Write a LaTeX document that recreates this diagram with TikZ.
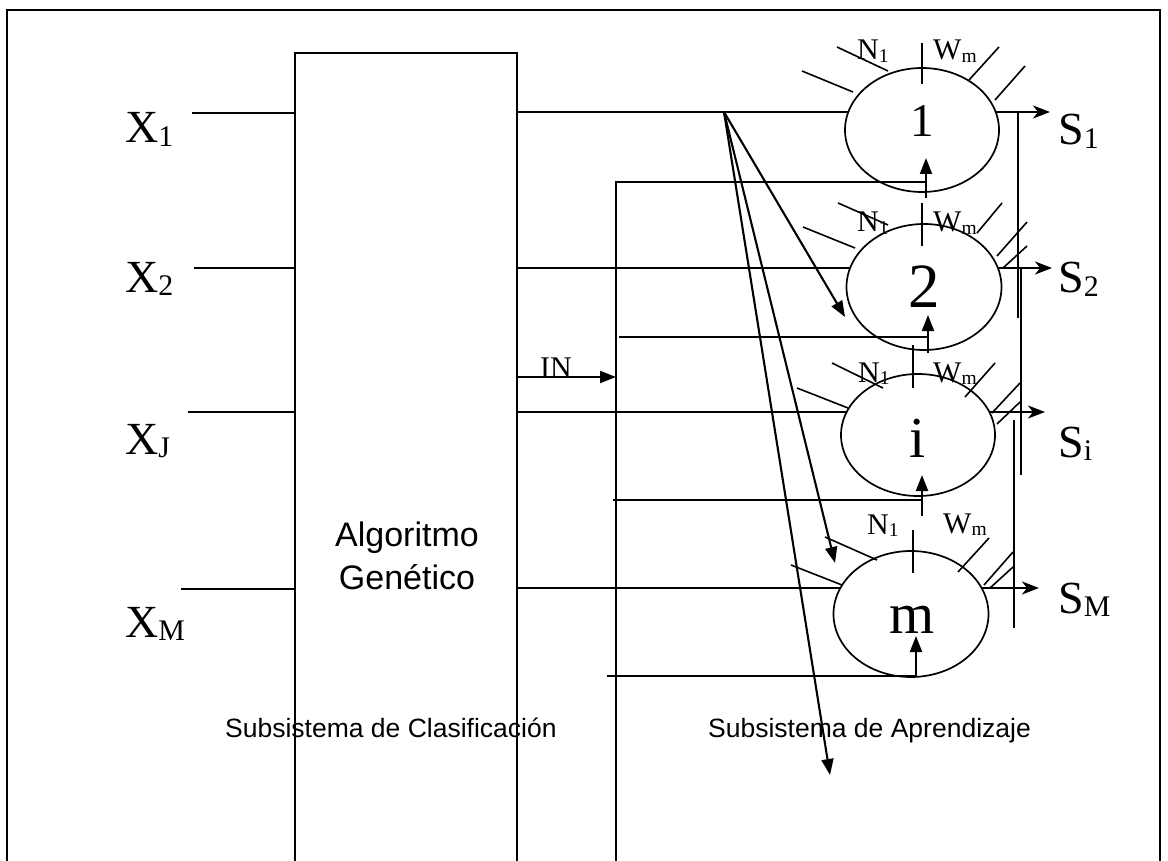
\documentclass[tikz,border=0pt]{standalone}
\usepackage{fontspec}
\usepackage{graphicx}
\setmainfont{Liberation Serif}
\newfontfamily\arialf{Liberation Sans}
\usetikzlibrary{shapes.geometric,arrows.meta}
\newcommand\sbs[1]{\raisebox{-0.08em}{\scalebox{0.65}{#1}}}
\tikzset{
  ln/.style={line width=2.1pt},
  tln/.style={line width=1.6pt},
  neuron/.style={ellipse, draw, line width=1.7pt, inner sep=0pt},
  tri/.style={-{Triangle[length=16pt,width=12pt]}},
  outarr/.style={-{Stealth[length=17pt,width=13pt,inset=5pt]}},
  bigl/.style={inner sep=0pt, anchor=base west, font=\fontsize{46pt}{50pt}\selectfont},
  smalll/.style={inner sep=0pt, anchor=base west, font=\fontsize{30pt}{34pt}\selectfont},
  numl/.style={inner sep=0pt, anchor=base},
  sansl/.style={inner sep=0pt, anchor=base west, font=\arialf\fontsize{26.5pt}{30pt}\selectfont},
}
\begin{document}
\begin{tikzpicture}[x=1pt,y=-1pt]
\useasboundingbox (0,0) rectangle (1168,861);
% frame
\coordinate (fl) at (7,861); \coordinate (ftl) at (7,10);
\coordinate (ftr) at (1160,10); \coordinate (fr) at (1160,861);
\draw[ln] (fl) -- (ftl) -- (ftr) -- (fr);
% genetic algorithm box
\coordinate (gbl) at (295,861); \coordinate (gtl) at (295,53);
\coordinate (gtr) at (517,53); \coordinate (gbr) at (517,861);
\draw[ln] (gbl) -- (gtl) -- (gtr) -- (gbr);
\node[inner sep=0pt, anchor=base, font=\arialf\fontsize{34pt}{38pt}\selectfont] (alg1) at (407,546) {Algoritmo};
\node[inner sep=0pt, anchor=base, font=\arialf\fontsize{34pt}{38pt}\selectfont] (alg2) at (407,589) {Genético};
% neurons
\node[neuron, minimum width=154pt, minimum height=124pt] (n1) at (922,130) {};
\node[neuron, minimum width=155pt, minimum height=126pt] (n2) at (924,287) {};
\node[neuron, minimum width=154pt, minimum height=122pt] (ni) at (918,435) {};
\node[neuron, minimum width=155pt, minimum height=126pt] (nm) at (911,614) {};
\node[numl, font=\fontsize{47pt}{50pt}\selectfont] (t1) at (922,137) {1};
\node[numl, font=\fontsize{63pt}{66pt}\selectfont] (t2) at (924,308) {2};
\node[numl, font=\fontsize{58pt}{62pt}\selectfont] (ti) at (918,457) {i};
\node[numl, font=\fontsize{58pt}{62pt}\selectfont] (tm) at (912,633) {m};
% inputs
\node[bigl] (x1) at (125,143) {X\sbs{1}};
\node[bigl] (x2) at (125,292) {X\sbs{2}};
\node[bigl] (xj) at (125,454) {X\sbs{J}};
\node[bigl] (xm) at (125,637) {X\sbs{M}};
\coordinate (x1e) at (192,113); \coordinate (x1b) at (295,113);
\coordinate (x2e) at (194,268); \coordinate (x2b) at (295,268);
\coordinate (xje) at (188,412); \coordinate (xjb) at (295,412);
\coordinate (xme) at (181,589); \coordinate (xmb) at (295,589);
\draw[ln] (x1e) -- (x1b);
\draw[ln] (x2e) -- (x2b);
\draw[ln] (xje) -- (xjb);
\draw[ln] (xme) -- (xmb);
% lines from box to neurons
\coordinate (o1) at (517,112); \coordinate (e1) at (848,112);
\coordinate (o2) at (517,268); \coordinate (e2) at (850,268);
\coordinate (oi) at (517,412); \coordinate (ei) at (847,412);
\coordinate (om) at (517,588); \coordinate (em) at (840,588);
\draw[ln] (o1) -- (e1);
\draw[ln] (o2) -- (e2);
\draw[ln] (oi) -- (ei);
\draw[ln] (om) -- (em);
% IN arrow
\coordinate (ino) at (517,377); \coordinate (ine) at (616,377);
\draw[ln, tri] (ino) -- (ine);
\node[smalll] (inl) at (540,377) {IN};
% feedback bus
\coordinate (vb) at (616,861); \coordinate (vt) at (616,182);
\coordinate (f1) at (926,182);
\draw[ln] (vb) -- (vt) -- (f1);
\coordinate (f2s) at (619,337); \coordinate (f2) at (928,337);
\coordinate (f3s) at (613,500); \coordinate (f3) at (922,500);
\coordinate (f4s) at (607,676); \coordinate (f4) at (916,676);
\draw[tln] (f2s) -- (f2);
\draw[tln] (f3s) -- (f3);
\draw[tln] (f4s) -- (f4);
% upward arrows into neurons
\coordinate (u1a) at (926,198); \coordinate (u1b) at (926,158);
\coordinate (u2a) at (928,353); \coordinate (u2b) at (928,315);
\coordinate (uia) at (922,516); \coordinate (uib) at (922,475);
\coordinate (uma) at (916,677); \coordinate (umb) at (916,636);
\draw[ln, tri] (u1a) -- (u1b);
\draw[ln, tri] (u2a) -- (u2b);
\draw[ln, tri] (uia) -- (uib);
\draw[ln, tri] (uma) -- (umb);
% separator ticks
\draw[tln] (922,43) -- (922,84);
\draw[tln] (922,203) -- (922,246);
\draw[tln] (913,345) -- (913,388);
\draw[tln] (913,530) -- (913,573);
% N / W labels
\node[smalll] (na) at (857,60) {N\sbs{1}};
\node[smalll] (wa) at (933,60) {W\sbs{m}};
\node[smalll] (nb) at (857,232) {N\sbs{1}};
\node[smalll] (wb) at (933,232) {W\sbs{m}};
\node[smalll] (nc) at (858,382) {N\sbs{1}};
\node[smalll] (wc) at (933,382) {W\sbs{m}};
\node[smalll] (nd) at (867,534) {N\sbs{1}};
\node[smalll] (wd) at (943,533) {W\sbs{m}};
% slanted weight strokes
\draw[tln] (837,47) -- (888,71);
\draw[tln] (802,71) -- (853,92);
\draw[tln] (969,80) -- (999,47);
\draw[tln] (995,100) -- (1025,66);
\draw[tln] (838,203) -- (888,225);
\draw[tln] (803,227) -- (855,248);
\draw[tln] (977,233) -- (1002,203);
\draw[tln] (997,256) -- (1027,222);
\draw[tln] (1003,268) -- (1027,246);
\draw[tln] (832,363) -- (883,388);
\draw[tln] (797,388) -- (848,408);
\draw[tln] (965,397) -- (995,363);
\draw[tln] (992,413) -- (1020,383);
\draw[tln] (997,424) -- (1020,402);
\draw[tln] (825,537) -- (877,560);
\draw[tln] (791,565) -- (842,585);
\draw[tln] (958,572) -- (989,538);
\draw[tln] (984,585) -- (1013,552);
\draw[tln] (990,588) -- (1013,567);
% outputs
\coordinate (s1a) at (996,112); \coordinate (s1b) at (1050,112);
\coordinate (s2a) at (998,268); \coordinate (s2b) at (1052,268);
\coordinate (sia) at (989,412); \coordinate (sib) at (1045,412);
\coordinate (sma) at (982,588); \coordinate (smb) at (1039,588);
\draw[ln, outarr] (s1a) -- (s1b);
\draw[ln, outarr] (s2a) -- (s2b);
\draw[ln, outarr] (sia) -- (sib);
\draw[ln, outarr] (sma) -- (smb);
\draw[tln] (1018,112) -- (1018,318);
\draw[tln] (1021,268) -- (1021,475);
\draw[tln] (1014,420) -- (1014,628);
\node[bigl] (s1) at (1058,145) {S\sbs{1}};
\node[bigl] (s2) at (1058,293) {S\sbs{2}};
\node[bigl] (si) at (1058,457) {S\sbs{i}};
\node[bigl] (sm) at (1058,613) {S\sbs{M}};
% fan of arrows
\coordinate (fan) at (724,112);
\coordinate (d1) at (845,317); \coordinate (d2) at (835,563); \coordinate (d3) at (830,775);
\draw[ln, tri] (fan) -- (d1);
\draw[ln, tri] (fan) -- (d2);
\draw[ln, tri] (fan) -- (d3);
% subsystem labels
\node[sansl] (sc) at (225,737) {Subsistema de Clasificación};
\node[sansl] (sa) at (708,737) {Subsistema de Aprendizaje};
\end{tikzpicture}
\end{document}
